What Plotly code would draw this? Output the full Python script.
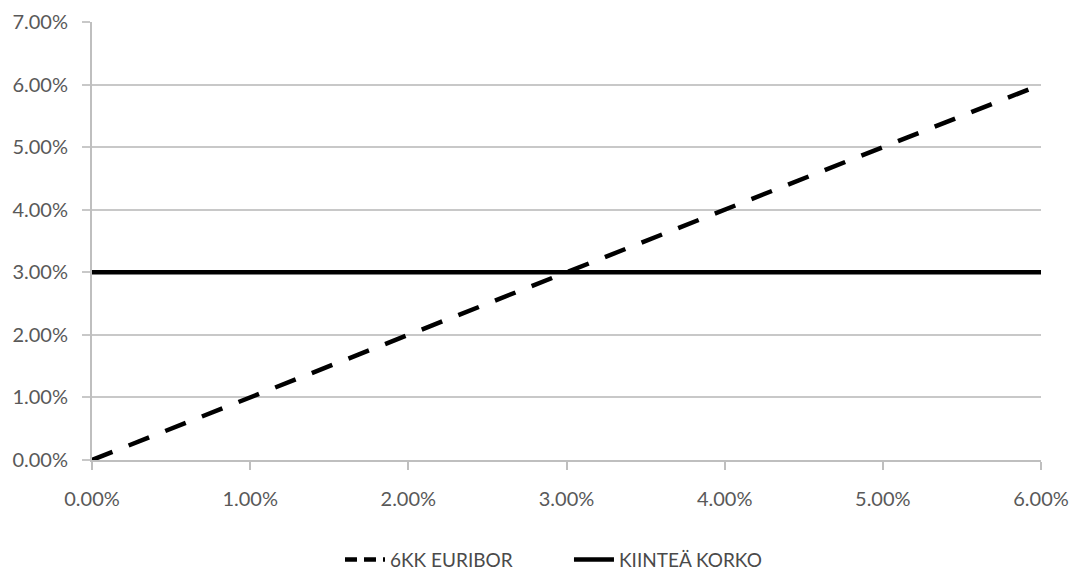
import plotly.graph_objects as go

x_vals = [0.00, 0.01, 0.02, 0.03, 0.04, 0.05, 0.06]
euribor = [0.00, 0.01, 0.02, 0.03, 0.04, 0.05, 0.06]
kiintea = [0.03, 0.03, 0.03, 0.03, 0.03, 0.03, 0.03]
x_ticks = [0.00, 0.01, 0.02, 0.03, 0.04, 0.05, 0.06]
y_ticks = [0.00, 0.01, 0.02, 0.03, 0.04, 0.05, 0.06, 0.07]
names = ["6KK EURIBOR", "KIINTEÄ KORKO"]

fig = go.Figure()
fig.add_trace(go.Scatter(x=x_vals, y=euribor, mode="lines", name=names[0], showlegend=False,
                         line=dict(color="black", width=4.5, dash="22px,17.4px")))
fig.add_trace(go.Scatter(x=x_vals, y=kiintea, mode="lines", name=names[1], showlegend=False,
                         line=dict(color="black", width=4.5)))
# legend entries
fig.add_trace(go.Scatter(x=[None], y=[None], mode="lines", name=names[0],
                         line=dict(color="black", width=4.5, dash="12px,7px")))
fig.add_trace(go.Scatter(x=[None], y=[None], mode="lines", name=names[1],
                         line=dict(color="black", width=4.5)))

font_fam = "Lato, 'Open Sans', sans-serif"
fig.update_layout(
    width=1081, height=570,
    margin=dict(l=84, r=48, t=14, b=118, autoexpand=False),
    paper_bgcolor="white", plot_bgcolor="white",
    font=dict(family=font_fam, size=20, color="#595959"),
    showlegend=True,
    legend=dict(orientation="h", x=0.2613, xanchor="left", yref="container",
                y=0.032, yanchor="middle", font=dict(size=19, color="#4a4a4a"),
                itemwidth=40, entrywidth=174, entrywidthmode="pixels", tracegroupgap=0),
    xaxis=dict(range=[0, 0.06], tickvals=x_ticks, tickformat=".2%", automargin=False,
               showgrid=False, zeroline=False, showline=True, linecolor="#bfbfbf",
               linewidth=2, ticks="outside", ticklen=8, tickcolor="#bfbfbf", tickwidth=2,
               ticklabelstandoff=12),
    yaxis=dict(range=[0, 0.07], tickvals=y_ticks, tickformat=".2%", automargin=False,
               showgrid=True, gridcolor="#c8c8c8", gridwidth=2, zeroline=False,
               showline=True, linecolor="#bfbfbf", linewidth=2,
               ticks="outside", ticklen=8, tickcolor="#c8c8c8", tickwidth=2,
               ticklabelstandoff=10),
)
fig.write_html("out.html")
